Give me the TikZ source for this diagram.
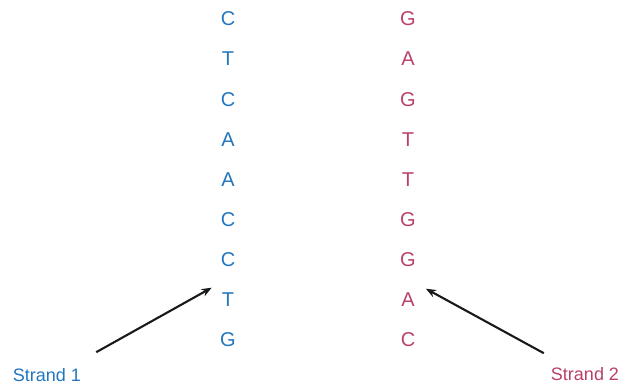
\documentclass[tikz,border=0pt]{standalone}
\usepackage{fontspec}
\setmainfont{Liberation Sans}
\usetikzlibrary{arrows.meta}
\definecolor{strandblue}{RGB}{33,118,189}
\definecolor{strandrose}{RGB}{186,64,108}
\tikzset{
  >={Stealth[length=3.6mm,width=2.8mm]},
  base/.style={text=#1,inner sep=0pt,font=\fontsize{20}{22}\selectfont},
  base/.default=strandblue,
  strand/.style={text=#1,inner sep=0pt,font=\fontsize{18}{21}\selectfont},
  pointer/.style={->,line width=2.1pt,draw=black!90},
}

\begin{document}
\begin{tikzpicture}[x=1pt,y=-1pt]
  \useasboundingbox (0,0) rectangle (627,389);
  % the two strands, base by base
  \foreach \i/\a/\b in {1/C/G,2/T/A,3/C/G,4/A/T,5/A/T,6/C/G,7/C/G,8/T/A,9/G/C}
  {
    \node[base] (l\i) at (228,{19+40.1*(\i-1)}) {\a};
    \node[base=strandrose] (r\i) at (408,{19+40.1*(\i-1)}) {\b};
  }
  \node[strand=strandblue] (s1) at (47,375) {Strand 1};
  \node[strand=strandrose] (s2) at (585,374) {Strand 2};
  \draw[pointer] ([xshift=15pt,yshift=16pt]s1.north east) -- ([xshift=-10pt,yshift=12pt]l8.west);
  \draw[pointer] ([xshift=-7pt,yshift=14pt]s2.north west) -- ([xshift=11pt,yshift=11pt]r8.east);
\end{tikzpicture}
\end{document}
